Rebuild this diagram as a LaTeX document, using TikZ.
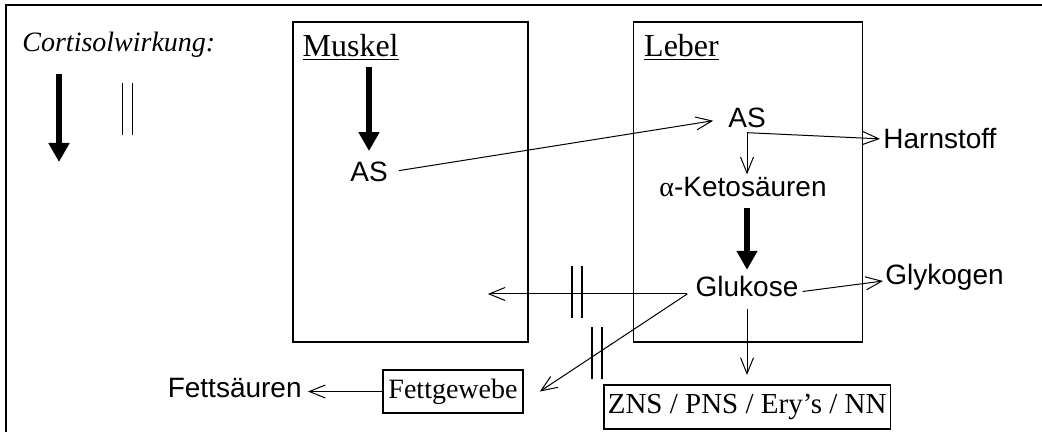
\documentclass[tikz,border=0pt]{standalone}
\usepackage{fontspec}
\setmainfont{Liberation Serif}
\newfontfamily\arialfont{Liberation Sans}
\usetikzlibrary{arrows.meta,positioning}

\begin{document}
\begin{tikzpicture}[x=0.5pt, y=-0.5pt]
\tikzstyle{organ}=[draw, line width=0.8pt, minimum width=117.5pt, minimum height=160pt, inner sep=0pt]
\tikzstyle{titel}=[font=\fontsize{16}{18}\selectfont, inner sep=0pt, anchor=base west]
\tikzstyle{stoff}=[font=\arialfont\fontsize{14}{16}\selectfont, inner sep=0pt]
\tikzstyle{ziel}=[draw, line width=0.8pt, font=\fontsize{14}{16}\selectfont, minimum height=21.5pt, inner xsep=2.5pt, inner ysep=0pt]
\tikzstyle{fluss}=[line width=0.5pt, -{Straight Barb[length=8pt, width=6.5pt]}]
\tikzstyle{stark}=[line width=3pt, -{Triangle[length=9.5pt, width=10pt]}]
\tikzset{hemmung/.pic={\draw[line width=0.8pt] (-5,-26) -- (-5,26) (5,-26) -- (5,26);}}
\useasboundingbox (0,0) rectangle (1042,432);
\draw[line width=1pt] (6,432) -- (6,5) -- (1042,5);
\node[font=\itshape\fontsize{14}{16}\selectfont, inner sep=0pt, anchor=base west] (legende) at (22,52) {Cortisolwirkung:};
\draw[stark] (59,74) -- (59,162);
\pic at (127.5,109) {hemmung};
\node[organ] (muskel) at (410.5,182) {};
\node[organ, minimum width=114.5pt, right=52pt of muskel] (leber) {};
\node[titel] (mtitel) at ([xshift=5pt, yshift=-17.5pt]muskel.north west) {\underline{Muskel}};
\node[titel] (ltitel) at ([xshift=5.5pt, yshift=-17.5pt]leber.north west) {\underline{Leber}};
\node[stoff, anchor=base] (asm) at (369,182) {AS};
\node[stoff, anchor=base] (asl) at (747,128) {AS};
\node[stoff, anchor=base west] (harn) at (883,149) {Harnstoff};
\node[stoff, anchor=base] (keto) at (743,197) {{\rmfamily α}-Ketosäuren};
\node[stoff, anchor=base] (gluk) at (747,297) {Glukose};
\node[stoff, anchor=base west] (glyk) at (885,285) {Glykogen};
\node[ziel, minimum width=70pt] (fett) at (453,391.5) {Fettgewebe};
\node[ziel, font=\fontsize{14.5}{16}\selectfont, minimum height=22pt, inner xsep=2pt, anchor=north west] (zns) at (603,384) {ZNS / PNS / Ery’s / NN};
\node[stoff, anchor=base east] (fsr) at (302,397) {Fettsäuren};
\draw[stark, shorten <=3pt, shorten >=5.5pt] (mtitel.south -| asm.north) -- (asm.north);
\draw[fluss, shorten <=5.5pt, shorten >=7.5pt] (asm.east) -- (asl.west);
\coordinate (knick) at ([yshift=-2pt]asl.south);
\draw[fluss, shorten >=1.5pt] (knick) -- (harn.west);
\draw[fluss, shorten >=1.5pt] (knick) -- (knick |- keto.north);
\draw[stark, shorten <=5pt, shorten >=3.25pt] (keto.south -| gluk.north) -- (gluk.north);
\coordinate (gaus) at ([xshift=-4pt, yshift=-3.5pt]gluk.west);
\coordinate (mziel) at ([xshift=-20.5pt]muskel.east |- gaus);
\draw[fluss] (gaus) -- (mziel);
\draw[fluss] (gaus) -- ([xshift=8pt]fett.east);
\pic at (577,292) {hemmung};
\pic at (597,353) {hemmung};
\draw[fluss, shorten <=2pt, shorten >=1pt] ([yshift=-2.5pt]gluk.east) -- ([yshift=-1.5pt]glyk.west);
\draw[fluss, shorten <=5.5pt, shorten >=4.5pt] (gluk.south) -- (gluk.south |- zns.north);
\draw[fluss, shorten >=3pt] (fett.west) -- (fett.west -| fsr.east);
\end{tikzpicture}
\end{document}
